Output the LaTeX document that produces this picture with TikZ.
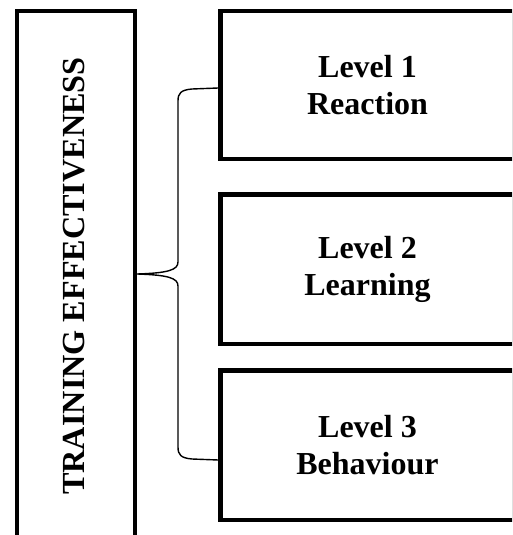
\documentclass[tikz,border=0pt]{standalone}
\usepackage{fontspec}
\setmainfont{Liberation Serif}
\begin{document}
\begin{tikzpicture}[x=1pt,y=-1pt,
  box/.style={draw, line width=4.5pt, inner sep=0pt, align=center,
    font=\bfseries\fontsize{32}{37}\selectfont},
  lbl/.style={inner sep=0pt, font=\bfseries\fontsize{32.2}{38}\selectfont},
  brace/.style={line width=1.4pt}]
\useasboundingbox (0,0) rectangle (512,535);
\clip (0,0) rectangle (512,535);
\node[box, minimum width=118pt, minimum height=534pt] (main) at (76,278) {};
\node[lbl, rotate=90] (title) at (74.5,276) {TRAINING EFFECTIVENESS};
\node[box, minimum width=294pt, minimum height=148pt] (l1) at (367.5,85) {Level 1\\Reaction};
\node[box, minimum width=294pt, minimum height=149.5pt] (l2) at (367.5,269.25) {Level 2\\Learning};
\node[box, minimum width=294pt, minimum height=149.5pt] (l3) at (367.5,445.25) {Level 3\\Behaviour};
\coordinate (btop) at (l1.west |- 0,88);
\coordinate (bbot) at (l3.west |- 0,460);
\coordinate (tip) at (main.east |- 0,274);
\draw[brace] (btop) -- (192,89) .. controls (181,90) and (178,93) .. (178,101)
  -- (178,262) .. controls (178,270) and (168,273) .. (tip)
  .. controls (168,275) and (178,278) .. (178,286)
  -- (178,447) .. controls (178,455) and (181,458) .. (192,459) -- (bbot);
\end{tikzpicture}
\end{document}
